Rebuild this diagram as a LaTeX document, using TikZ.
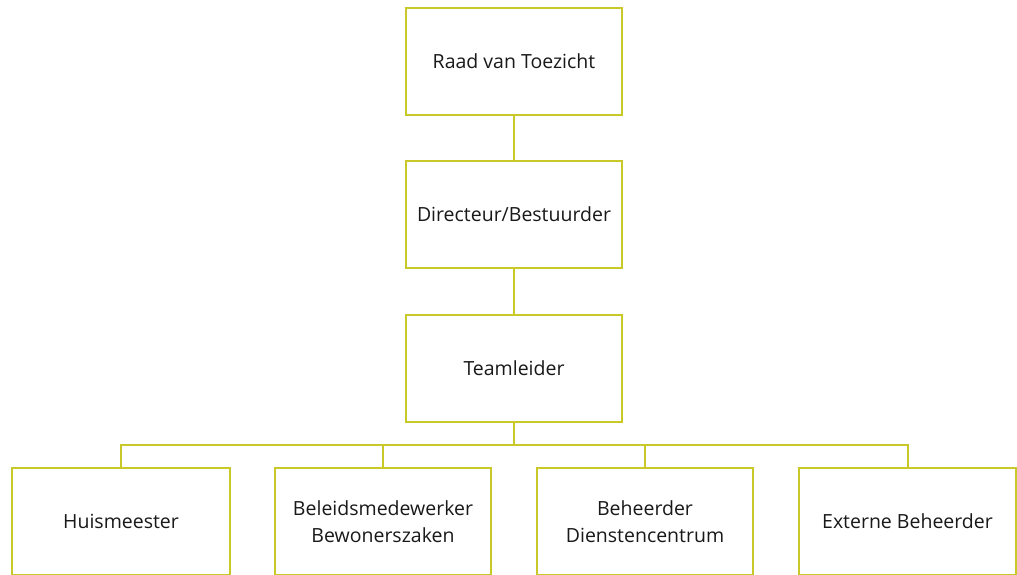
\documentclass[tikz,border=0pt]{standalone}
\usepackage{fontspec}
\setmainfont{Open Sans}
\definecolor{boxline}{RGB}{200,200,40}
\definecolor{txt}{RGB}{25,25,25}
\begin{document}
\begin{tikzpicture}[x=1pt,y=-1pt,
  orgbox/.style={draw=boxline,line width=2pt,fill=white,minimum width=216pt,minimum height=107pt,inner sep=0pt,align=center,font=\fontsize{19.5}{27}\selectfont,text=txt},
  link/.style={draw=boxline,line width=2pt}]
\clip (0,0) rectangle (1017,575);
\node[orgbox] (rvt) at (514,61.5) {Raad van Toezicht};
\node[orgbox] (dir) at (514,214.5) {Directeur/Bestuurder};
\node[orgbox] (tl) at (514,368) {Teamleider};
\node[orgbox,minimum width=218pt] (hm) at (121,521.5) {Huismeester};
\node[orgbox] (bm) at (383,521.5) {Beleidsmedewerker\\Bewonerszaken};
\node[orgbox] (bd) at (645,521.5) {Beheerder\\Dienstencentrum};
\node[orgbox,minimum width=217pt] (eb) at (907.5,521.5) {Externe Beheerder};
\coordinate (bar) at (514,445);
\draw[link] (rvt) -- (dir);
\draw[link] (dir) -- (tl);
\draw[link] (tl.south) -- (bar);
\draw[link] (bar) -| (hm.north);
\draw[link] (bar) -| (bm.north);
\draw[link] (bar) -| (bd.north);
\draw[link] (bar) -| (eb.north);
\end{tikzpicture}
\end{document}
